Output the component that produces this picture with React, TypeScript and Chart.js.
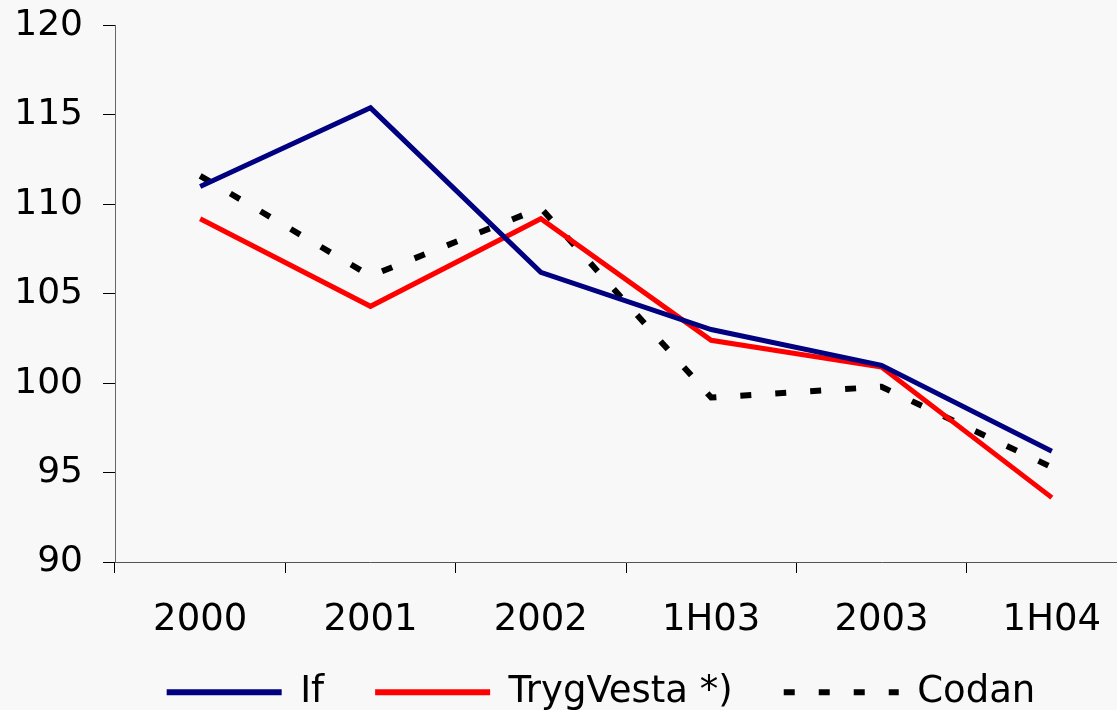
import React, { useEffect, useRef } from 'react';
import { Chart, registerables } from 'chart.js';

Chart.register(...registerables);

const categories = ['2000', '2001', '2002', '1H03', '2003', '1H04'];
const ifValues = [111.0, 115.4, 106.2, 103.0, 101.0, 96.2];
const trygVestaValues = [109.2, 104.3, 109.2, 102.4, 100.9, 93.6];
const codanValues = [111.6, 106.0, 109.8, 99.2, 99.8, 95.3];
const yTicks = [90, 95, 100, 105, 110, 115, 120];

const SHIFT = 16; // canvas is moved up by this many pixels
const CANVAS_W = 1200;
const CANVAS_H = 710 + SHIFT;
const FONT = { family: 'DejaVu Sans', size: 37 };
const Y_FONT = { family: 'DejaVu Sans', size: 36 };
const LEGEND_PAD = 51;

export default function App() {
  const ref = useRef<HTMLCanvasElement>(null);

  useEffect(() => {
    if (!ref.current) return;
    const chart = new Chart(ref.current, {
      type: 'line',
      data: {
        labels: categories,
        datasets: [
          {
            label: 'If',
            data: ifValues,
            borderColor: '#000080',
            backgroundColor: '#000080',
            borderWidth: 5,
            pointRadius: 0,
            tension: 0,
          },
          {
            label: 'TrygVesta *)',
            data: trygVestaValues,
            borderColor: '#ff0000',
            backgroundColor: '#ff0000',
            borderWidth: 5,
            pointRadius: 0,
            tension: 0,
          },
          {
            label: 'Codan',
            data: codanValues,
            borderColor: '#000000',
            backgroundColor: '#000000',
            borderWidth: 6,
            borderDash: [11, 24],
            pointRadius: 0,
            tension: 0,
          },
        ],
      },
      options: {
        responsive: false,
        animation: false,
        layout: { padding: { left: 10, right: 8, top: 0, bottom: 0 } },
        scales: {
          x: {
            offset: true,
            grid: { offset: true, drawOnChartArea: false, drawTicks: true, tickLength: 11, color: '#000' },
            border: { color: '#555', width: 1 },
            ticks: { font: FONT, color: '#000', mirror: true, padding: -80.5, maxRotation: 0, minRotation: 0, autoSkip: false },
            afterFit: (s: any) => {
              s.height = 60.8;
            },
          },
          y: {
            min: 90,
            max: 120,
            afterBuildTicks: (s: any) => {
              s.ticks = yTicks.map((v) => ({ value: v }));
            },
            afterFit: (s: any) => {
              s.width = 105;
            },
            grid: { drawOnChartArea: false, drawTicks: true, tickLength: 12, color: '#000' },
            border: { color: '#666', width: 1 },
            ticks: { font: Y_FONT, color: '#000', padding: 20 },
          },
          yRight: {
            type: 'linear',
            position: 'right',
            display: true,
            min: 0,
            max: 1,
            grid: { display: false, drawTicks: false },
            border: { display: false },
            ticks: { display: false },
            afterFit: (s: any) => {
              s.width = 55;
            },
          },
        },
        plugins: {
          legend: {
            position: 'bottom',
            maxHeight: 87.2,
            labels: {
              usePointStyle: true,
              pointStyleWidth: 115,
              font: FONT,
              color: '#000',
              padding: LEGEND_PAD,
              generateLabels: (c: any) => {
                const items = (Chart.defaults.plugins.legend.labels as any).generateLabels(c);
                return items.map((it: any, i: number) => {
                  const ds: any = c.data.datasets[i];
                  return {
                    ...it,
                    pointStyle: 'line',
                    strokeStyle: ds.borderColor,
                    fillStyle: ds.borderColor,
                    lineWidth: 6,
                    lineDash: ds.borderDash || [],
                    lineCap: 'butt',
                  };
                });
              },
            },
          },
          tooltip: { enabled: false },
        },
      },
    });
    return () => chart.destroy();
  }, []);

  return (
    <div
      style={{
        position: 'fixed',
        left: 0,
        top: 0,
        width: 1117,
        height: 710,
        overflow: 'hidden',
        background: '#f8f8f8',
      }}
    >
      <canvas
        ref={ref}
        width={CANVAS_W}
        height={CANVAS_H}
        style={{ display: 'block', position: 'absolute', left: 0, top: -SHIFT }}
      />
    </div>
  );
}
